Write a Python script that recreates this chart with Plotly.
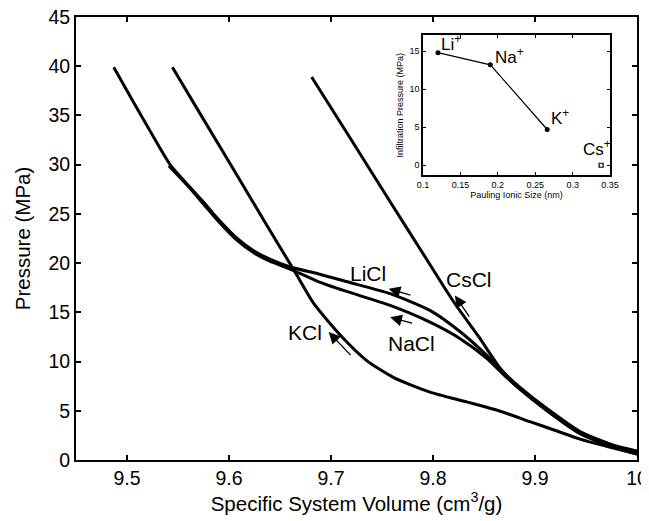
import plotly.graph_objects as go

# ---- main chart data (specific volume cm^3/g, pressure MPa) ----
licl_x = [9.487, 9.500, 9.515, 9.530, 9.543, 9.560, 9.575, 9.590, 9.608, 9.625, 9.640, 9.660, 9.688, 9.716, 9.758, 9.797, 9.827, 9.853, 9.868, 9.885, 9.912, 9.944, 9.977, 10.0]
licl_y = [39.9, 37.5, 34.8, 32.1, 29.9, 27.9, 26.2, 24.4, 22.5, 21.2, 20.4, 19.6, 18.9, 18.1, 16.9, 15.2, 13.0, 10.6, 9.0, 7.4, 5.2, 2.9, 1.5, 0.9]

nacl_x = [9.541, 9.560, 9.575, 9.590, 9.608, 9.625, 9.640, 9.660, 9.688, 9.716, 9.758, 9.797, 9.827, 9.853, 9.870, 9.885, 9.912, 9.944, 9.977, 10.0]
nacl_y = [29.9, 27.8, 26.0, 24.2, 22.3, 21.0, 20.2, 19.4, 18.1, 17.1, 15.7, 14.0, 12.3, 10.3, 8.6, 7.2, 5.0, 2.7, 1.3, 0.7]

kcl_x = [9.5445, 9.575, 9.608, 9.635, 9.663, 9.683, 9.709, 9.735, 9.761, 9.797, 9.833, 9.866, 9.895, 9.920, 9.945, 9.970, 10.0]
kcl_y = [39.9, 34.6, 28.9, 24.2, 19.4, 15.9, 12.7, 10.1, 8.4, 6.9, 5.9, 4.95, 3.9, 3.0, 2.1, 1.4, 0.6]

cscl_x = [9.681, 9.720, 9.760, 9.790, 9.820, 9.845, 9.866, 9.885, 9.912, 9.944, 9.977, 10.0]
cscl_y = [38.9, 32.5, 25.9, 21.0, 16.1, 12.5, 9.3, 7.3, 5.0, 2.7, 1.3, 0.6]

# ---- inset data ----
ion_names = ["Li", "Na", "K", "Cs"]
ion_size = [0.12, 0.19, 0.266, 0.338]
ion_pressure = [14.8, 13.2, 4.7, 0.0]

x_ticks = [9.5, 9.6, 9.7, 9.8, 9.9, 10]
y_ticks = [0, 5, 10, 15, 20, 25, 30, 35, 40, 45]

FONT = "Liberation Sans, Arial, Helvetica, sans-serif"
line_style = dict(color="black", width=3, shape="spline", smoothing=0.6)

fig = go.Figure()
for xs, ys, nm in [(licl_x, licl_y, "LiCl"), (nacl_x, nacl_y, "NaCl"),
                   (kcl_x, kcl_y, "KCl"), (cscl_x, cscl_y, "CsCl")]:
    fig.add_trace(go.Scatter(x=xs, y=ys, mode="lines", name=nm, line=line_style,
                             showlegend=False, xaxis="x", yaxis="y"))

# inset: connected points Li, Na, K
fig.add_trace(go.Scatter(x=ion_size[:3], y=ion_pressure[:3], mode="lines+markers",
                         line=dict(color="black", width=1.2),
                         marker=dict(color="black", size=5),
                         showlegend=False, xaxis="x2", yaxis="y2"))
fig.add_trace(go.Scatter(x=ion_size[3:], y=ion_pressure[3:], mode="markers",
                         marker=dict(color="white", size=4, symbol="square",
                                     line=dict(color="black", width=1.2)),
                         showlegend=False, xaxis="x2", yaxis="y2"))

annotations = []
# labels on main chart
for txt, x, y in [("LiCl", 9.7367, 18.9), ("NaCl", 9.7794, 11.8),
                  ("CsCl", 9.835, 18.3), ("KCl", 9.6748, 13.0)]:
    annotations.append(dict(x=x, y=y, xref="x", yref="y", text=txt, showarrow=False,
                            font=dict(family=FONT, size=21, color="black")))
# arrows (head, tail)
for hx, hy, tx, ty in [(9.7565, 17.4, 9.7794, 16.7), (9.758, 14.5, 9.781, 13.85),
                       (9.8215, 16.7, 9.8366, 14.4), (9.6977, 13.0, 9.7206, 10.5)]:
    annotations.append(dict(x=hx, y=hy, ax=tx, ay=ty, xref="x", yref="y", axref="x", ayref="y",
                            text="", showarrow=True, arrowhead=2, arrowsize=1.8,
                            arrowwidth=1.3, arrowcolor="black"))
# inset ion labels
for nm, x, y in [("Li", 0.121, 14.4), ("Na", 0.194, 12.6), ("K", 0.269, 4.6), ("Cs", 0.311, 0.5)]:
    annotations.append(dict(x=x, y=y, xref="x2", yref="y2", text=nm + "<sup>+</sup>",
                            showarrow=False, xanchor="left", yanchor="bottom",
                            font=dict(family=FONT, size=17, color="black")))

# the page body has an 8px margin, so the figure is sized to end at the window edge
fig.update_layout(
    width=641, height=513,
    margin=dict(l=68, r=12, t=9, b=61),
    paper_bgcolor="white", plot_bgcolor="white",
    font=dict(family=FONT, color="black"),
    annotations=annotations,
    xaxis=dict(range=[9.45, 10], tickvals=x_ticks, ticktext=[str(v) for v in x_ticks],
               automargin=False, ticklabeloverflow="allow",
               showline=True, linecolor="black", linewidth=2, mirror="ticks",
               ticks="inside", ticklen=5, tickwidth=1.5, tickcolor="black",
               showgrid=False, zeroline=False, tickfont=dict(size=19.5),
               title=dict(text="Specific System Volume (cm<sup>3</sup>/g)",
                          font=dict(size=20.5), standoff=6)),
    yaxis=dict(range=[0, 45], tickvals=y_ticks, automargin=False, ticklabeloverflow="allow",
               showline=True, linecolor="black", linewidth=2, mirror="ticks",
               ticks="inside", ticklen=5, tickwidth=1.5, tickcolor="black",
               showgrid=False, zeroline=False, tickfont=dict(size=19.5),
               title=dict(text="Pressure (MPa)", font=dict(size=20.5), standoff=12)),
    xaxis2=dict(domain=[0.6185, 0.952], anchor="y2", range=[0.1, 0.35], automargin=False,
                tickvals=[0.1, 0.15, 0.2, 0.25, 0.3, 0.35],
                ticktext=["0.1", "0.15", "0.2", "0.25", "0.3", "0.35"],
                showline=True, linecolor="black", linewidth=1.5, mirror="ticks",
                ticks="inside", ticklen=3, tickcolor="black",
                showgrid=False, zeroline=False, tickfont=dict(size=9),
                title=dict(text="Pauling Ionic Size (nm)", font=dict(size=9), standoff=2)),
    yaxis2=dict(domain=[0.643, 0.959], anchor="x2", range=[-1.3, 17.1], automargin=False,
                tickvals=[0, 5, 10, 15],
                showline=True, linecolor="black", linewidth=1.5, mirror="ticks",
                ticks="inside", ticklen=3, tickcolor="black",
                showgrid=False, zeroline=False, tickfont=dict(size=9),
                title=dict(text="Infiltration Pressure (MPa)", font=dict(size=9), standoff=4)),
)

fig.write_html("out.html")
